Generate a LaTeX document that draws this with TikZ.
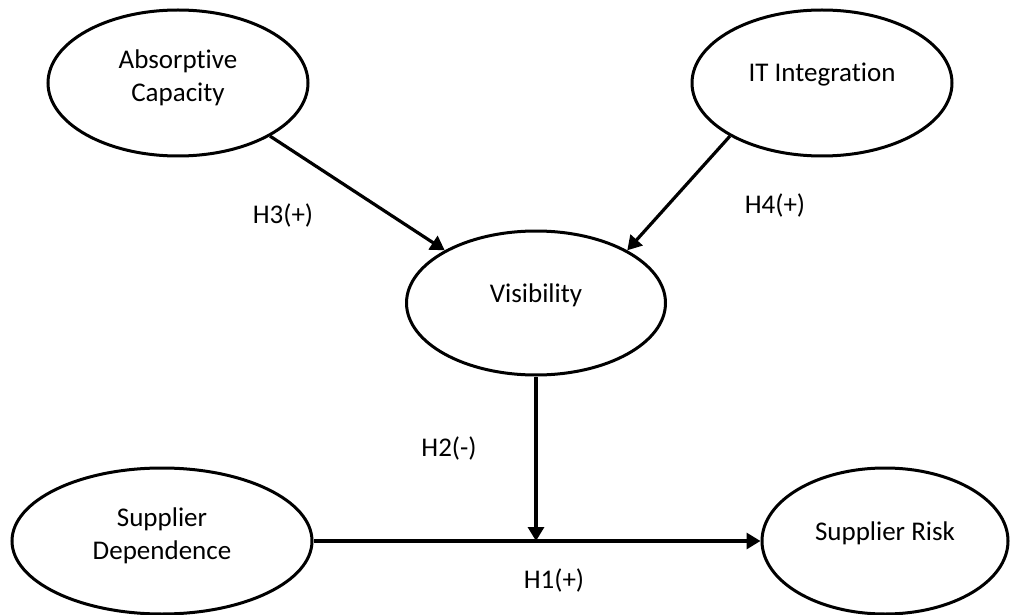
\documentclass[tikz,border=0pt]{standalone}
\usepackage{fontspec}
\setmainfont{Carlito}[Ligatures=NoCommon]
\usetikzlibrary{positioning,shapes.geometric,arrows.meta}

\begin{document}
\begin{tikzpicture}[
    x=1pt, y=-1pt,
    every node/.style={font=\fontsize{27}{33}\selectfont},
    construct/.style={draw, ellipse, line width=3pt, inner sep=0pt},
    ctext/.style={align=center, yshift=8pt},
    ctexttwo/.style={align=center, yshift=5pt},
    arrow/.style={-{Triangle[length=14pt,width=16pt]}, line width=3.2pt}
]
    \useasboundingbox (0,0) rectangle (1010,615);

    \node[construct, minimum width=260pt, minimum height=146pt,
          label={[ctexttwo]center:{Absorptive\\Capacity}}] (absorb) at (178,83) {};
    \node[construct, minimum width=260pt, minimum height=146pt,
          label={[ctext]center:{IT Integration}}] (itint) at (822,83) {};
    \node[construct, minimum width=259pt, minimum height=144pt,
          label={[ctext]center:{Visibility}}] (vis) at (536,303) {};
    \node[construct, minimum width=300pt, minimum height=146pt,
          label={[ctexttwo]center:{Supplier\\Dependence}}] (dep) at (162,541) {};
    \node[construct, minimum width=246pt, minimum height=146pt,
          label={[ctext]center:{Supplier Risk}}] (risk) at (885,541) {};

    \coordinate (join) at (vis.south |- dep.east);

    \draw[arrow] (absorb.330) -- (vis.150);
    \draw[arrow] (itint.210) -- (vis.30);
    \draw[arrow] (vis.south) -- (join);
    \draw[arrow] (dep.east) -- (risk.west);

    \node (h3) at (283,215) {H3(+)};
    \node (h4) at (775,205) {H4(+)};
    \node (h2) at (449,448) {H2(-)};
    \node (h1) at (554,580) {H1(+)};
\end{tikzpicture}
\end{document}
